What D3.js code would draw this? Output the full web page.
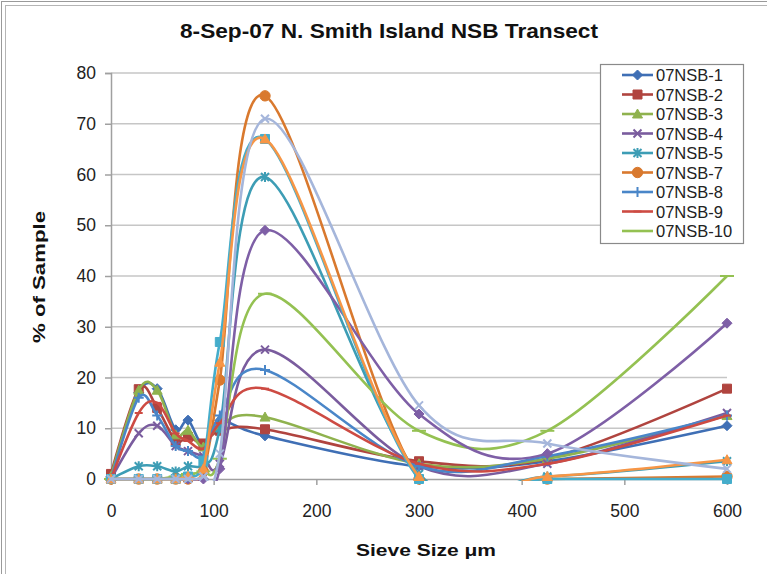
<!DOCTYPE html>
<html><head><meta charset="utf-8">
<script src="https://cdn.jsdelivr.net/npm/d3@7"></script>
<style>body{margin:0;background:#fff}svg{display:block}</style>
</head><body>
<svg id="c" width="767" height="574"></svg>
<script>
const sieveSizes = [0, 27, 45, 63, 75, 90, 106, 150, 300, 425, 600];
const seriesNames = ["07NSB-1","07NSB-2","07NSB-3","07NSB-4","07NSB-5","07NSB-7","07NSB-8","07NSB-9","07NSB-10","07NSB-11","07NSB-12","07NSB-13","07NSB-14"];
const nsb1  = [0.5, 17, 17.8, 9.7, 11.6, 6.7, 11.5, 8.5, 2.5, 3.5, 10.5];
const nsb2  = [1, 17.7, 14, 7.5, 8.3, 7, 9.5, 9.8, 3.5, 4, 17.8];
const nsb3  = [0.5, 17.5, 17.5, 8.7, 9.6, 6.3, 10.5, 12.2, 3, 4, 12.5];
const nsb4  = [0, 9, 10.5, 6.5, 5.5, 4.5, 3, 25.5, 2.5, 3, 13];
const nsb5  = [0, 2.5, 2.5, 1.5, 2.5, 3, 10, 59.5, 1, 0.5, 3.5];
const nsb7  = [0, 0, 0, 0, 0, 1.5, 19.5, 75.5, 0, 0, 0.5];
const nsb8  = [0, 16, 12.5, 6.5, 5.5, 4.5, 12.5, 21.5, 2.5, 4.5, 12.5];
const nsb9  = [0, 13, 15, 9, 7.5, 6, 11, 17.8, 3, 3, 12.5];
const nsb10 = [0, 0, 0, 0.5, 1, 1.5, 4, 36.5, 9.5, 9.5, 40];
const nsb11 = [0, 0, 0, 0, 0, 0, 2, 49, 12.8, 5, 30.7];
const nsb12 = [0, 0, 0, 0, 0.5, 3.5, 27, 67, 0, 0, 0];
const nsb13 = [0, 0, 0, 0, 0.5, 2, 23, 67, 0.5, 0.5, 3.8];
const nsb14 = [0, 0, 0, 0, 0, 0.5, 5, 71, 14.5, 7, 2];
const allValues = [nsb1,nsb2,nsb3,nsb4,nsb5,nsb7,nsb8,nsb9,nsb10,nsb11,nsb12,nsb13,nsb14];
const colors = ["#3F6FB5","#B0443F","#8FB24E","#7A5C9E","#3D9DB5","#D9792E","#4A86C8","#CD4B43","#94C152","#7E5FA6","#45ADCB","#F79646","#A5B6DB"];
const markers = ["diamond","square","triangle","x","star","circle","plus","dash","longdash","diamond","square","triangle","x"];
const legendCount = 9;
const yTicks = [0,10,20,30,40,50,60,70,80];
const xTicks = [0,100,200,300,400,500,600];

const svg = d3.select("#c");
const font = "'Liberation Sans', Arial, sans-serif";
// frame
svg.append("rect").attr("x",1.5).attr("y",1.5).attr("width",780).attr("height",590).attr("fill","none").attr("stroke","#9a9a9a");
svg.append("rect").attr("x",5.5).attr("y",5.5).attr("width",780).attr("height",590).attr("fill","none").attr("stroke","#b5b5b5");

const L=111, R=727, T=73, B=479;
const x = d3.scaleLinear().domain([0,600]).range([L,R]);
const y = d3.scaleLinear().domain([0,80]).range([B,T]);

// gridlines
svg.append("g").selectAll("line").data(yTicks.slice(1)).join("line")
  .attr("x1",L).attr("x2",R).attr("y1",d=>y(d)).attr("y2",d=>y(d))
  .attr("stroke","#c6c6c6").attr("stroke-width",1.5);

// axes
const yAxis = svg.append("g").attr("transform",`translate(${L},0)`)
  .call(d3.axisLeft(y).tickValues(yTicks).tickSize(6).tickPadding(9).tickFormat(d3.format("d")));
const xAxis = svg.append("g").attr("transform",`translate(0,${B})`)
  .call(d3.axisBottom(x).tickValues(xTicks).tickSize(6).tickPadding(20).tickFormat(d3.format("d")));
[yAxis,xAxis].forEach(a=>{
  a.select(".domain").attr("stroke","#a0a0a0").attr("stroke-width",1.5);
  a.selectAll(".tick line").attr("stroke","#a0a0a0").attr("stroke-width",1.5);
  a.selectAll("text").attr("font-family",font).attr("font-size",17.5).attr("fill","#222");
});

// clip
svg.append("defs").append("clipPath").attr("id","pc").append("rect")
  .attr("x",L-3).attr("y",T-5).attr("width",R-L+8).attr("height",B-T+7);

function markerPath(type, s){
  const h=s/2;
  switch(type){
    case "diamond": return `M0,${-h-1}L${h+1},0L0,${h+1}L${-h-1},0Z`;
    case "square": return `M${-h},${-h}h${s}v${s}h${-s}Z`;
    case "triangle": return `M0,${-h-1}L${h+1},${h}L${-h-1},${h}Z`;
    case "x": return `M${-h},${-h}L${h},${h}M${-h},${h}L${h},${-h}`;
    case "star": return `M${-h},${-h}L${h},${h}M${-h},${h}L${h},${-h}M0,${-h-1}V${h+1}`;
    case "plus": return `M${-h-1},0H${h+1}M0,${-h-1}V${h+1}`;
    case "dash": return `M${-h},0H${h}`;
    case "longdash": return `M${-h-3},0H${h+3}`;
    default: return "";
  }
}
function drawMarker(g, type, color, cx, cy){
  if(type==="circle"){
    g.append("circle").attr("cx",cx).attr("cy",cy).attr("r",5.2).attr("fill",color).attr("stroke",color);
  } else {
    const filled = ["diamond","square","triangle"].includes(type);
    g.append("path").attr("d",markerPath(type, type==="square"?9:8)).attr("transform",`translate(${cx},${cy})`)
      .attr("fill",filled?color:"none").attr("stroke",color).attr("stroke-width",filled?1:2);
  }
}

const line = d3.line().x((d,i)=>x(sieveSizes[i])).y(d=>y(d)).curve(d3.curveCardinal.tension(0));
const plot = svg.append("g");
allValues.forEach((vals,si)=>{
  const g = plot.append("g");
  g.append("path").attr("d",line(vals)).attr("fill","none").attr("stroke",colors[si])
    .attr("stroke-width",2.6).attr("clip-path","url(#pc)");
  vals.forEach((v,i)=>drawMarker(g, markers[si], colors[si], x(sieveSizes[i]), y(v)));
});

// titles
svg.append("text").attr("x",389).attr("y",38).attr("text-anchor","middle")
  .attr("font-family",font).attr("font-weight","bold").attr("font-size",21).attr("fill","#111")
  .attr("textLength",418).attr("lengthAdjust","spacingAndGlyphs")
  .text("8-Sep-07 N. Smith Island NSB Transect");
svg.append("text").attr("transform","translate(45,277) rotate(-90)").attr("text-anchor","middle")
  .attr("font-family",font).attr("font-weight","bold").attr("font-size",17).attr("fill","#111")
  .attr("textLength",132).attr("lengthAdjust","spacingAndGlyphs")
  .text("% of Sample");
svg.append("text").attr("x",426).attr("y",556).attr("text-anchor","middle")
  .attr("font-family",font).attr("font-weight","bold").attr("font-size",17).attr("fill","#111")
  .attr("textLength",140).attr("lengthAdjust","spacingAndGlyphs")
  .text("Sieve Size μm");

// legend
const lg = svg.append("g");
lg.append("rect").attr("x",600.5).attr("y",64.5).attr("width",143).attr("height",179)
  .attr("fill","#fff").attr("stroke","#8a8a8a").attr("stroke-width",1.2);
seriesNames.slice(0,legendCount).forEach((n,i)=>{
  const cy = 75 + i*19.5;
  lg.append("line").attr("x1",622).attr("x2",653).attr("y1",cy).attr("y2",cy).attr("stroke",colors[i]).attr("stroke-width",2.6);
  drawMarker(lg, markers[i], colors[i], 637.5, cy);
  lg.append("text").attr("x",656).attr("y",cy+6).attr("font-family",font).attr("font-size",16.5).attr("fill","#222").text(n);
});
</script>
</body></html>
